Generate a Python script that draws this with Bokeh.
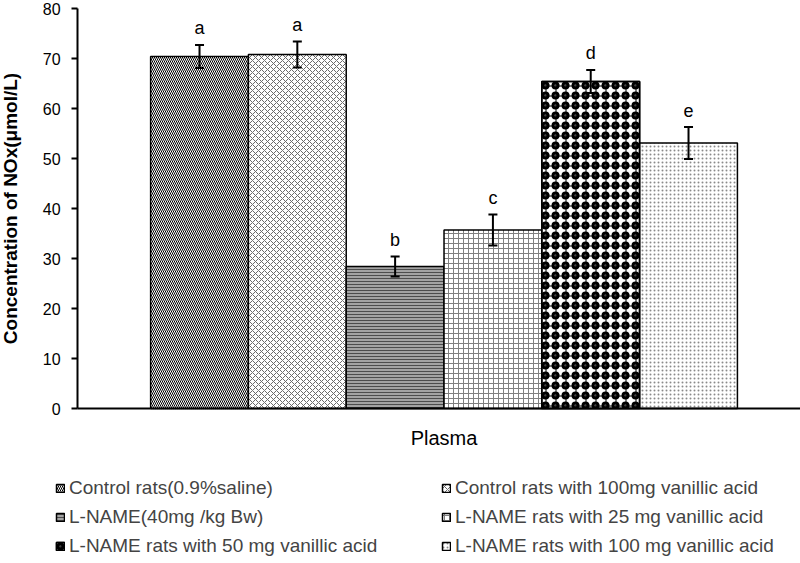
import numpy as np
from bokeh.plotting import figure
from bokeh.models import (ColumnDataSource, Range1d, FixedTicker, Whisker, TeeHead,
                          Legend, LegendItem, CDSView, IndexFilter, LinearAxis)
from bokeh.core.properties import value
from bokeh.embed import file_html
from bokeh.resources import INLINE

# ---- data ----
category = "Plasma"
groups = [
    "Control rats(0.9%saline)",
    "Control rats with 100mg vanillic acid",
    "L-NAME(40mg /kg Bw)",
    "L-NAME rats with 25 mg vanillic acid",
    "L-NAME rats with 50 mg vanillic acid",
    "L-NAME rats with 100 mg vanillic acid",
]
means = [70.4, 70.8, 28.4, 35.7, 65.4, 53.1]
errors = [2.3, 2.6, 2.0, 3.1, 2.3, 3.2]
letters = ["a", "a", "b", "c", "d", "e"]
y_ticks = [0, 10, 20, 30, 40, 50, 60, 70, 80]
y_title = "Concentration of NOx(\u03bcmol/L)"

# ---- styles ----
fills = ["white", "white", "#a3a3a3", "white", "white", "white"]
hatches = ["\\", "x", "-", "+", "o", "."]
hatch_colors = ["black", "#6a6a6a", "#4d4d4d", "#808080", "black", "#8a8a8a"]
hatch_scales = [4, 6, 3, 5, 10, 4]
hatch_weights = [1.0, 1.0, 1.0, 1.0, 3.0, 1.0]

n = len(groups)
xs = np.arange(n) - (n - 1) / 2.0
m = np.array(means)
e = np.array(errors)

src = ColumnDataSource(dict(
    x=xs, mean=m, upper=m + e, lower=m - e, letter=letters, group=groups,
    fill=fills, hatch=hatches, hcolor=hatch_colors, hscale=hatch_scales, hweight=hatch_weights,
))

FONT = "Liberation Sans"

# frame covers the whole canvas; axes are pinned inside it
X0, X1 = -4.535, 3.645      # canvas x extent in category units
Y0, Y1 = -31.0, 81.6        # canvas y extent in data units
Y_AXIS_AT = -3.747

p = figure(width=800, height=563, output_backend="svg", toolbar_location=None,
           x_range=Range1d(X0, X1), y_range=Range1d(Y0, Y1),
           x_axis_type=None, y_axis_type=None,
           min_border_left=0, min_border_right=0, min_border_top=0, min_border_bottom=0)
p.xgrid.visible = False
p.ygrid.visible = False
p.outline_line_color = None

bars = p.vbar(x="x", top="mean", bottom=0, width=1.0, source=src,
              fill_color="fill", hatch_pattern="hatch", hatch_color="hcolor",
              hatch_scale="hscale", hatch_weight="hweight",
              line_color="black", line_width=1.5)
grid_overlay = p.vbar(x="x", top="mean", bottom=0, width=1.0, source=src,
                      view=CDSView(filter=IndexFilter([4])),
                      fill_color=None, hatch_pattern="+", hatch_color="black",
                      hatch_scale=10, hatch_weight=1.0,
                      line_color="black", line_width=1.5)

wh = Whisker(source=src, base="x", upper="upper", lower="lower",
             line_color="black", line_width=2, level="overlay",
             upper_head=TeeHead(size=9, line_width=2, line_color="black"),
             lower_head=TeeHead(size=9, line_width=2, line_color="black"))
p.add_layout(wh)

p.text(x="x", y="upper", text="letter", source=src, y_offset=-17,
       text_align="center", text_baseline="alphabetic",
       text_font=value(FONT), text_font_size="18px", text_color="black")

# y axis
yax = LinearAxis(fixed_location=Y_AXIS_AT, bounds=(0, 80),
                 ticker=FixedTicker(ticks=y_ticks), axis_label=y_title)
yax.axis_label_text_font = FONT
yax.axis_label_text_font_style = "bold"
yax.axis_label_text_font_size = "19px"
yax.axis_label_text_color = "black"
yax.axis_label_standoff = 19
yax.major_label_text_font = FONT
yax.major_label_text_font_size = "16px"
yax.major_label_standoff = 11
yax.axis_line_width = 2
yax.major_tick_line_width = 2
yax.major_tick_out = 6
yax.major_tick_in = 0
yax.minor_tick_line_color = None
yax.major_label_text_color = "black"
p.add_layout(yax, "left")

# x axis
xax = LinearAxis(fixed_location=0, bounds=(Y_AXIS_AT, X1),
                 ticker=FixedTicker(ticks=[0]))
xax.major_label_overrides = {0: category}
xax.major_label_text_font = FONT
xax.major_label_text_font_size = "20px"
xax.major_label_standoff = 12
xax.axis_line_width = 2
xax.major_tick_line_color = None
xax.minor_tick_line_color = None
xax.major_label_text_color = "black"
p.add_layout(xax, "below")

items = []
for i, g in enumerate(groups):
    rs = [bars, grid_overlay] if i == 4 else [bars]
    items.append(LegendItem(label=g, renderers=rs, index=i))

legend = Legend(items=items, orientation="horizontal", ncols=2,
                location=(55, 6),
                label_text_font=FONT, label_text_font_size="19px",
                glyph_width=10, glyph_height=10, label_standoff=4,
                label_height=20, label_width=365, spacing=7,
                padding=0, margin=0, border_line_color=None,
                background_fill_alpha=0)
p.add_layout(legend, "center")

open("out.html", "w").write(file_html(p, INLINE))
